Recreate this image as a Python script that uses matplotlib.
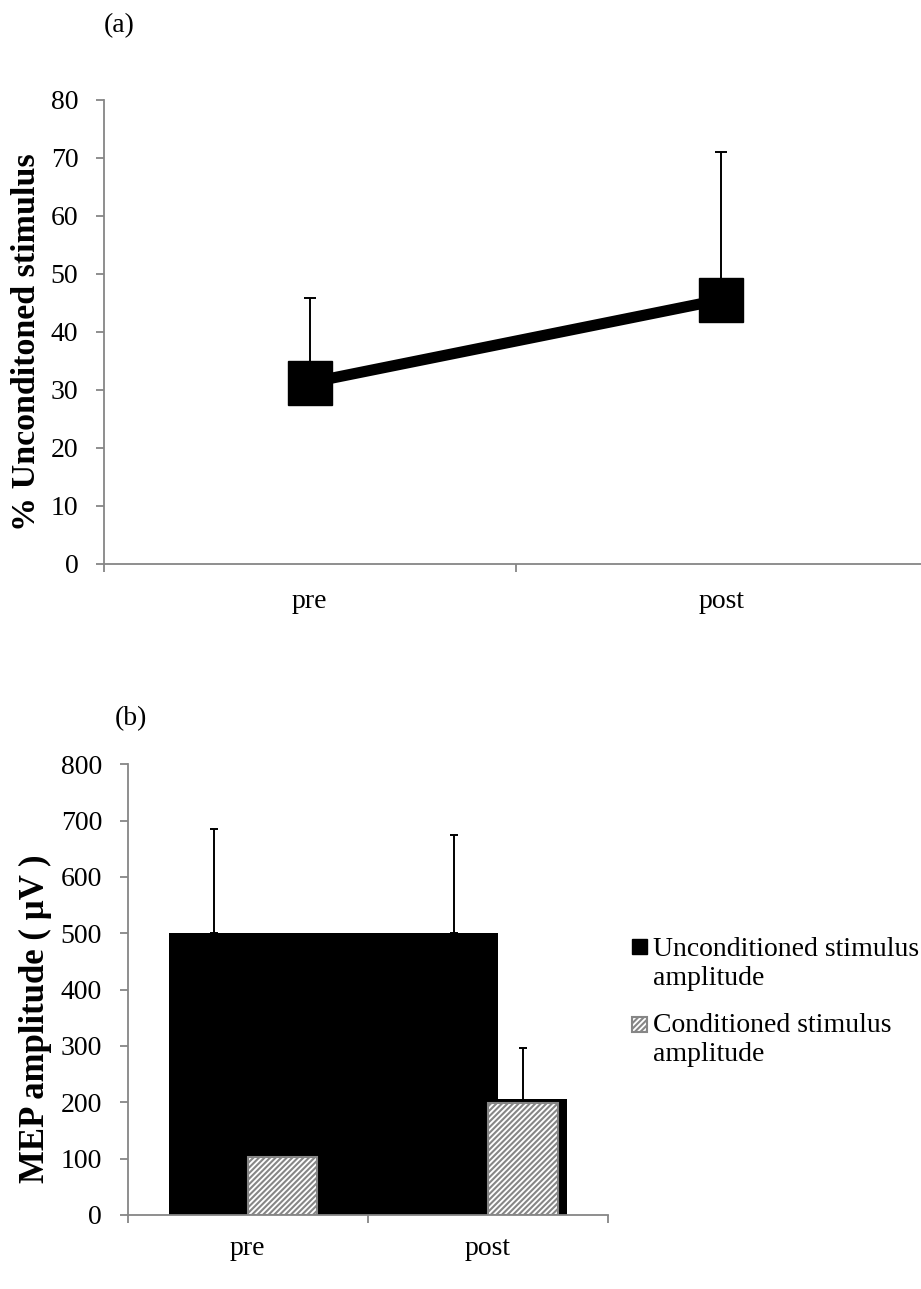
import numpy as np
import matplotlib
matplotlib.use("Agg")
import matplotlib.pyplot as plt
from matplotlib.patches import Rectangle

plt.rcParams['font.family'] = ['Liberation Serif', 'DejaVu Serif']
plt.rcParams['hatch.linewidth'] = 1.5

# (a) % unconditioned stimulus
fases = ["pre", "post"]
pct = [31.2, 45.5]
pct_err = [14.6, 25.5]

# (b) MEP amplitude (µV)
uncond = [500, 500]
uncond_err = [185, 175]
cond = [103, 198]
cond_err = [50, 98]

cinza = "#868686"
W, H = 921, 1289
fig = plt.figure(figsize=(W / 100, H / 100), dpi=100)


def estilo(ax, pad_x):
    for s in ["top", "right"]:
        ax.spines[s].set_visible(False)
    for s in ["left", "bottom"]:
        ax.spines[s].set_color(cinza)
        ax.spines[s].set_linewidth(1.3)
    ax.set_xlim(0, 2)
    ax.set_xticks([0, 1, 2])
    ax.set_xticklabels([])
    ax.set_xticks([0.5, 1.5], minor=True)
    ax.set_xticklabels(fases, minor=True)
    ax.tick_params(axis="x", which="major", direction="out", length=6, width=1.3, color=cinza)
    ax.tick_params(axis="x", which="minor", length=0, pad=pad_x, labelsize=20)
    ax.tick_params(axis="y", direction="out", length=6, width=1.3, color=cinza, pad=12.5, labelsize=20)


# ---- grafico (a)
ax1 = fig.add_axes([104 / W, 1 - 563.5 / H, 823 / W, 463.9 / H])
x = np.array([0.5, 1.5])
ax1.errorbar(x, pct, yerr=[[0, 0], pct_err], fmt="none", ecolor="black",
             elinewidth=1.4, capsize=4.3, capthick=1.4, zorder=2)
ax1.plot(x, pct, color="black", lw=8, marker="s", markersize=31, zorder=3)
ax1.set_ylim(0, 80)
ax1.set_yticks(range(0, 81, 10))
estilo(ax1, 18)
fig.text(104 / W, 1 - 26 / H, "(a)", fontsize=20, va="center", ha="left")
fig.text(27 / W, 1 - 342 / H, "% Unconditoned stimulus", fontsize=24.5,
         fontweight="bold", rotation=90, ha="center", va="center")

# ---- grafico (b)
ax2 = fig.add_axes([127.7 / W, 1 - 1215 / H, 480.3 / W, 450.7 / H])
larg = 0.29
# barras pretas (estimulo nao condicionado), como no Excel original
ax2.bar(x[0] - 0.328, uncond[0], width=0.69, align="edge", color="black", zorder=1)
ax2.bar(x[1] - 0.64, uncond[1], width=0.681, align="edge", color="black", zorder=1)
ax2.errorbar(x - 0.14, uncond, yerr=[[0, 0], uncond_err], fmt="none", ecolor="black",
             elinewidth=1.4, capsize=3, capthick=1.4, zorder=2)
# sombra das barras condicionadas
ax2.bar(x + 0.145 + 0.041, np.array(cond) + 8, width=larg, color="black", zorder=1)
ax2.errorbar(x + 0.145, cond, yerr=[[0, 0], cond_err], fmt="none", ecolor="black",
             elinewidth=1.4, capsize=3, capthick=1.4, zorder=2)
ax2.bar(x + 0.145, cond, width=larg, color="white", edgecolor=cinza, hatch="//////",
        linewidth=1.5, zorder=3)
ax2.set_ylim(0, 800)
ax2.set_yticks(range(0, 801, 100))
estilo(ax2, 15)
fig.text(115 / W, 1 - 719 / H, "(b)", fontsize=20, va="center", ha="left")
fig.text(35 / W, 1 - 1019 / H, "MEP amplitude ( µV )", fontsize=25,
         fontweight="bold", rotation=90, ha="center", va="center")

# legenda (baseline da ultima linha)
fig.patches.append(Rectangle((632 / W, 1 - 954 / H), 15 / W, 15 / H,
                             transform=fig.transFigure, facecolor="black", edgecolor="black"))
fig.text(653 / W, 1 - 985 / H, "Unconditioned stimulus\namplitude", fontsize=20,
         va="baseline", ha="left")
fig.patches.append(Rectangle((632 / W, 1 - 1032 / H), 15 / W, 15 / H,
                             transform=fig.transFigure, facecolor="white", edgecolor=cinza,
                             hatch="//////", linewidth=1.5))
fig.text(653 / W, 1 - 1061 / H, "Conditioned stimulus\namplitude", fontsize=20,
         va="baseline", ha="left")

plt.savefig("out.png", dpi=100)
